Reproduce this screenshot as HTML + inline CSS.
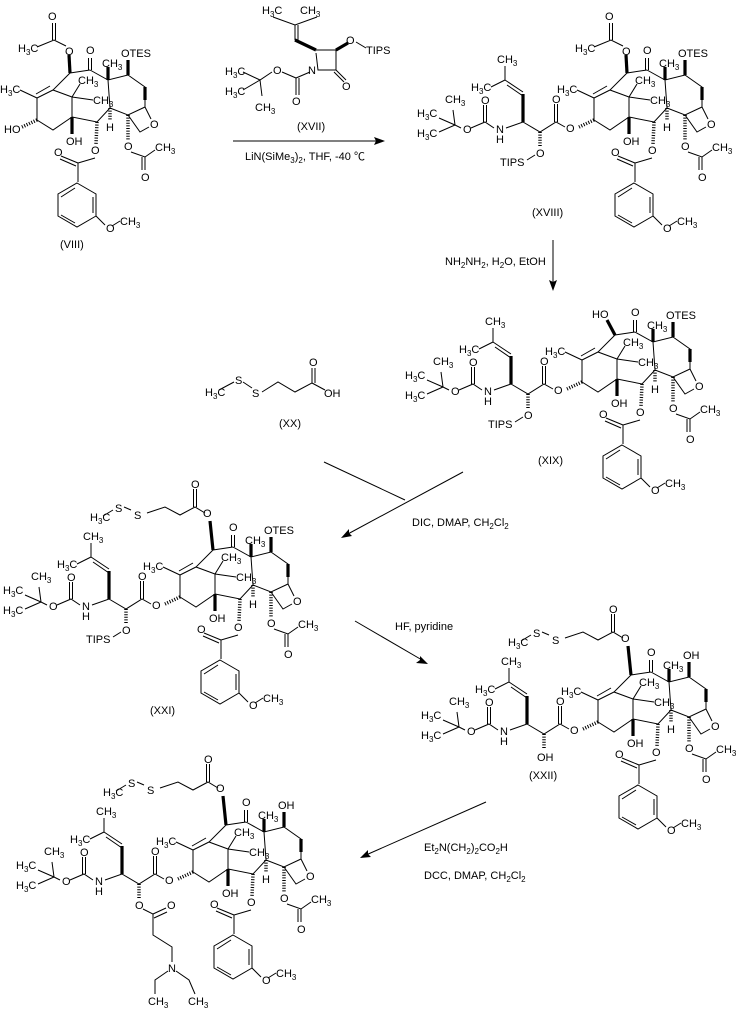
<!DOCTYPE html>
<html><head><meta charset="utf-8"><style>
html,body{margin:0;padding:0;background:#fff}
svg{display:block}
text{font-family:"Liberation Sans","Noto Sans CJK SC",sans-serif;font-size:11px;fill:#000}
.s{font-size:8px}
.l{stroke:#000;stroke-width:1;fill:none}
.b{stroke:#000;stroke-width:3.2;fill:none}
.h{stroke:#000;stroke-width:3.5;stroke-dasharray:1 1.6;fill:none}
</style></head><body>
<svg width="741" height="1012" viewBox="0 0 741 1012" xmlns="http://www.w3.org/2000/svg">
<defs>
<g id="core">
<path class="l" d="M70,73L90,70M88.5,70L88.5,58M91.5,70L91.5,58M90,70L108,80L128,75L145,87L145,107L128,115L110,108L108,80M145,107L151,119M149,127L140,132L128,115M110,108L97,122L72,117L72,97L53,90L70,73M53,90L37,98M50,86L36,94M37,98L37,120L53,130L72,117M72,97L80,84M72,97L93,100M37,98L20,90M95,158L78,163L78,182M78,163L61,156M76,166L60,159M77,183L96,194L96,216L77,227L58,216L58,194Z M93,197L93,213 M75,223L61,215 M61,197L75,188 M96,216L105,225M112,226L120,221M131,152L145,157L155,150M145,157L145,170M142,157L142,170"/>
<path class="b" d="M108,80L108,67M128,75L128,60M145,87L145,100M72,117L72,134"/>
<path class="h" d="M110,108L110,121M97,122L96,144M128,115L128,140M37,120L22,127"/>
</g>
<g id="oac">
<path class="l" d="M66,46L54,40L37,47M52.5,40L52.5,23M55.5,40L55.5,23"/>
<path class="b" d="M70,73L69,55"/>
</g>
<g id="ss">
<path class="b" d="M70,73L67,44"/>
<path class="l" d="M62,36L52,30L37,38L22,30L4,36M50.5,30L50.5,12M53.5,30L53.5,12M-12,33L-19,30M-30,33L-40,39"/>
</g>
<g id="sc">
<path class="l" d="M8,127L-1,122L-17,132L-34,122L-51,128M-2.5,122L-2.5,104M0.5,122L0.5,104M-34,92L-52,80M-34,96L-50,85M-52,80L-52,66M-52,80L-66,87M-63,128L-72,122L-86,128M-73.5,122L-73.5,105M-70.5,122L-70.5,105M-96,128L-102,125L-118,118M-102,125L-118,132M-102,125L-104,110"/>
<path class="b" d="M-34,122L-34,94"/>
<path class="h" d="M-17,132L-17,147"/>
</g>
</defs>

<!-- VIII -->
<use href="#core"/>
<use href="#oac"/>
<g>
<text x="48" y="20">O</text><text x="18" y="52">H<tspan class="s" dy="3">3</tspan><tspan dy="-3">C</tspan></text>
<text x="65" y="55">O</text><text x="86" y="54">O</text>
<text x="102" y="67">CH<tspan class="s" dy="3">3</tspan></text>
<text x="121" y="57">OTES</text>
<text x="78" y="84">CH<tspan class="s" dy="3">3</tspan></text>
<text x="93" y="104">CH<tspan class="s" dy="3">3</tspan></text>
<text x="0" y="93">H<tspan class="s" dy="3">3</tspan><tspan dy="-3">C</tspan></text>
<text x="4" y="133">HO</text>
<text x="106" y="131">H</text><text x="66" y="145">OH</text>
<text x="91" y="154">O</text><text x="54" y="156">O</text>
<text x="150" y="128">O</text>
<text x="106" y="232">O</text><text x="120" y="225">CH<tspan class="s" dy="3">3</tspan></text>
<text x="124" y="150">O</text><text x="155" y="151">CH<tspan class="s" dy="3">3</tspan></text><text x="141" y="181">O</text>
<text x="60" y="248">(VIII)</text>
</g>

<!-- XVII reagent -->
<path class="l" d="M273,17L295,25L317,17M295,25L295,40M298,25L298,40M295,40L312,48M316,50L336,50L336,70L318,70L316,53M336,70L346,80M334,72L344,82M310,72L296,78L296,95M299,78L299,95M296,78L282,72M272,72L260,80L243,72M260,80L243,90M260,80L262,96M356,42L366,48"/>
<path class="b" d="M295,40L316,50M336,50L348,43"/>
<text x="262" y="14">H<tspan class="s" dy="3">3</tspan><tspan dy="-3">C</tspan></text>
<text x="300" y="14">CH<tspan class="s" dy="3">3</tspan></text>
<text x="346" y="44">O</text><text x="366" y="54">TIPS</text>
<text x="308" y="74">N</text><text x="342" y="90">O</text>
<text x="273" y="74">O</text><text x="292" y="105">O</text>
<text x="225" y="75">H<tspan class="s" dy="3">3</tspan><tspan dy="-3">C</tspan></text>
<text x="225" y="95">H<tspan class="s" dy="3">3</tspan><tspan dy="-3">C</tspan></text>
<text x="255" y="111">CH<tspan class="s" dy="3">3</tspan></text>
<text x="297" y="130">(XVII)</text>
<path class="l" d="M233,141L380,141"/><path d="M385,141L374,137L376,141L374,145Z" fill="#000"/>
<text x="245" y="160">LiN(SiMe<tspan class="s" dy="3">3</tspan><tspan dy="-3">)</tspan><tspan class="s" dy="3">2</tspan><tspan dy="-3">, THF, -40 ℃</tspan></text>

<!-- XVIII -->
<g transform="translate(557,0)">
<use href="#core"/><use href="#oac"/><use href="#sc"/>
<path class="l" d="M-30,160L-22,155"/>
<text x="48" y="20">O</text><text x="18" y="52">H<tspan class="s" dy="3">3</tspan><tspan dy="-3">C</tspan></text>
<text x="65" y="55">O</text><text x="86" y="54">O</text>
<text x="102" y="67">CH<tspan class="s" dy="3">3</tspan></text><text x="121" y="57">OTES</text>
<text x="78" y="84">CH<tspan class="s" dy="3">3</tspan></text><text x="93" y="104">CH<tspan class="s" dy="3">3</tspan></text>
<text x="0" y="93">H<tspan class="s" dy="3">3</tspan><tspan dy="-3">C</tspan></text>
<text x="106" y="131">H</text><text x="66" y="145">OH</text><text x="91" y="154">O</text><text x="54" y="156">O</text>
<text x="150" y="128">O</text><text x="106" y="232">O</text><text x="120" y="225">CH<tspan class="s" dy="3">3</tspan></text>
<text x="124" y="150">O</text><text x="155" y="151">CH<tspan class="s" dy="3">3</tspan></text><text x="141" y="181">O</text>
<text x="9" y="132">O</text><text x="-5" y="103">O</text><text x="-21" y="157">O</text><text x="-57" y="166">TIPS</text>
<text x="-60" y="63">CH<tspan class="s" dy="3">3</tspan></text><text x="-86" y="91">H<tspan class="s" dy="3">3</tspan><tspan dy="-3">C</tspan></text>
<text x="-61" y="133">N</text><text x="-61" y="143">H</text><text x="-76" y="104">O</text><text x="-94" y="133">O</text>
<text x="-140" y="117">H<tspan class="s" dy="3">3</tspan><tspan dy="-3">C</tspan></text><text x="-140" y="137">H<tspan class="s" dy="3">3</tspan><tspan dy="-3">C</tspan></text>
<text x="-112" y="103">CH<tspan class="s" dy="3">3</tspan></text>
<text x="-25" y="216">(XVIII)</text>
</g>
<path class="l" d="M553,240L553,285"/><path d="M553,291L549,280L553,282L557,280Z" fill="#000"/>
<text x="445" y="265">NH<tspan class="s" dy="3">2</tspan><tspan dy="-3">NH</tspan><tspan class="s" dy="3">2</tspan><tspan dy="-3">, H</tspan><tspan class="s" dy="3">2</tspan><tspan dy="-3">O, EtOH</tspan></text>

<!-- XIX -->
<g transform="translate(545,262)">
<use href="#core"/><use href="#sc"/>
<path class="l" d="M-30,160L-22,155"/>
<path class="b" d="M70,73L62,58"/>
<text x="47" y="56">HO</text><text x="86" y="54">O</text>
<text x="102" y="67">CH<tspan class="s" dy="3">3</tspan></text><text x="121" y="57">OTES</text>
<text x="78" y="84">CH<tspan class="s" dy="3">3</tspan></text><text x="93" y="104">CH<tspan class="s" dy="3">3</tspan></text>
<text x="0" y="93">H<tspan class="s" dy="3">3</tspan><tspan dy="-3">C</tspan></text>
<text x="106" y="131">H</text><text x="66" y="145">OH</text><text x="91" y="154">O</text><text x="54" y="156">O</text>
<text x="150" y="128">O</text><text x="106" y="232">O</text><text x="120" y="225">CH<tspan class="s" dy="3">3</tspan></text>
<text x="124" y="150">O</text><text x="155" y="151">CH<tspan class="s" dy="3">3</tspan></text><text x="141" y="181">O</text>
<text x="9" y="132">O</text><text x="-5" y="103">O</text><text x="-21" y="157">O</text><text x="-57" y="166">TIPS</text>
<text x="-60" y="63">CH<tspan class="s" dy="3">3</tspan></text><text x="-86" y="91">H<tspan class="s" dy="3">3</tspan><tspan dy="-3">C</tspan></text>
<text x="-61" y="133">N</text><text x="-61" y="143">H</text><text x="-76" y="104">O</text><text x="-94" y="133">O</text>
<text x="-140" y="117">H<tspan class="s" dy="3">3</tspan><tspan dy="-3">C</tspan></text><text x="-140" y="137">H<tspan class="s" dy="3">3</tspan><tspan dy="-3">C</tspan></text>
<text x="-112" y="103">CH<tspan class="s" dy="3">3</tspan></text>
<text x="-7" y="202">(XIX)</text>
</g>

<!-- XX -->
<path class="l" d="M219,390L234,382M243,382L252,388M262,392L278,382L295,392L312,383L312,368M315,383L315,368M312,383L325,390"/>
<text x="205" y="396">H<tspan class="s" dy="3">3</tspan><tspan dy="-3">C</tspan></text>
<text x="235" y="384">S</text><text x="252" y="397">S</text>
<text x="309" y="366">O</text><text x="324" y="397">OH</text>
<text x="279" y="427">(XX)</text>
<path class="l" d="M324,462L405,500M463,472L346,535"/><path d="M341,538L352,536L349,533L349,529Z" fill="#000"/>
<text x="412" y="526">DIC, DMAP, CH<tspan class="s" dy="3">2</tspan><tspan dy="-3">Cl</tspan><tspan class="s" dy="3">2</tspan></text>

<!-- XXI -->
<g transform="translate(143,477)">
<use href="#core"/><use href="#ss"/><use href="#sc"/>
<path class="l" d="M-30,160L-22,155"/>
<text x="60" y="40">O</text><text x="48" y="11">O</text><text x="-9" y="42">S</text><text x="-28" y="35">S</text>
<text x="-53" y="44">H<tspan class="s" dy="3">3</tspan><tspan dy="-3">C</tspan></text>
<text x="86" y="54">O</text>
<text x="102" y="67">CH<tspan class="s" dy="3">3</tspan></text><text x="121" y="57">OTES</text>
<text x="78" y="84">CH<tspan class="s" dy="3">3</tspan></text><text x="93" y="104">CH<tspan class="s" dy="3">3</tspan></text>
<text x="0" y="93">H<tspan class="s" dy="3">3</tspan><tspan dy="-3">C</tspan></text>
<text x="106" y="131">H</text><text x="66" y="145">OH</text><text x="91" y="154">O</text><text x="54" y="156">O</text>
<text x="150" y="128">O</text><text x="106" y="232">O</text><text x="120" y="225">CH<tspan class="s" dy="3">3</tspan></text>
<text x="124" y="150">O</text><text x="155" y="151">CH<tspan class="s" dy="3">3</tspan></text><text x="141" y="181">O</text>
<text x="9" y="132">O</text><text x="-5" y="103">O</text><text x="-21" y="157">O</text><text x="-57" y="166">TIPS</text>
<text x="-60" y="63">CH<tspan class="s" dy="3">3</tspan></text><text x="-86" y="91">H<tspan class="s" dy="3">3</tspan><tspan dy="-3">C</tspan></text>
<text x="-61" y="133">N</text><text x="-61" y="143">H</text><text x="-76" y="104">O</text><text x="-94" y="133">O</text>
<text x="-140" y="117">H<tspan class="s" dy="3">3</tspan><tspan dy="-3">C</tspan></text><text x="-140" y="137">H<tspan class="s" dy="3">3</tspan><tspan dy="-3">C</tspan></text>
<text x="-112" y="103">CH<tspan class="s" dy="3">3</tspan></text>
<text x="7" y="237">(XXI)</text>
</g>
<path class="l" d="M355,621L422,660"/><path d="M428,664L420,656L420,660L416,663Z" fill="#000"/>
<text x="395" y="630">HF, pyridine</text>

<!-- XXII -->
<g transform="translate(561,602)">
<use href="#core"/><use href="#ss"/><use href="#sc"/>
<text x="60" y="40">O</text><text x="48" y="11">O</text><text x="-9" y="42">S</text><text x="-28" y="35">S</text>
<text x="-53" y="44">H<tspan class="s" dy="3">3</tspan><tspan dy="-3">C</tspan></text>
<text x="86" y="54">O</text>
<text x="102" y="67">CH<tspan class="s" dy="3">3</tspan></text><text x="122" y="57">OH</text>
<text x="78" y="84">CH<tspan class="s" dy="3">3</tspan></text><text x="93" y="104">CH<tspan class="s" dy="3">3</tspan></text>
<text x="0" y="93">H<tspan class="s" dy="3">3</tspan><tspan dy="-3">C</tspan></text>
<text x="106" y="131">H</text><text x="66" y="145">OH</text><text x="91" y="154">O</text><text x="54" y="156">O</text>
<text x="150" y="128">O</text><text x="106" y="232">O</text><text x="120" y="225">CH<tspan class="s" dy="3">3</tspan></text>
<text x="124" y="150">O</text><text x="155" y="151">CH<tspan class="s" dy="3">3</tspan></text><text x="141" y="181">O</text>
<text x="9" y="132">O</text><text x="-5" y="103">O</text><text x="-24" y="159">OH</text>
<text x="-60" y="63">CH<tspan class="s" dy="3">3</tspan></text><text x="-86" y="91">H<tspan class="s" dy="3">3</tspan><tspan dy="-3">C</tspan></text>
<text x="-61" y="133">N</text><text x="-61" y="143">H</text><text x="-76" y="104">O</text><text x="-94" y="133">O</text>
<text x="-140" y="117">H<tspan class="s" dy="3">3</tspan><tspan dy="-3">C</tspan></text><text x="-140" y="137">H<tspan class="s" dy="3">3</tspan><tspan dy="-3">C</tspan></text>
<text x="-112" y="103">CH<tspan class="s" dy="3">3</tspan></text>
<text x="-32" y="177">(XXII)</text>
</g>
<path class="l" d="M486,802L366,855"/><path d="M360,858L371,857L368,854L368,850Z" fill="#000"/>
<text x="424" y="851">Et<tspan class="s" dy="3">2</tspan><tspan dy="-3">N(CH</tspan><tspan class="s" dy="3">2</tspan><tspan dy="-3">)</tspan><tspan class="s" dy="3">2</tspan><tspan dy="-3">CO</tspan><tspan class="s" dy="3">2</tspan><tspan dy="-3">H</tspan></text>
<text x="424" y="879">DCC, DMAP, CH<tspan class="s" dy="3">2</tspan><tspan dy="-3">Cl</tspan><tspan class="s" dy="3">2</tspan></text>

<!-- Final -->
<g transform="translate(156,752)">
<use href="#core"/><use href="#ss"/><use href="#sc"/>
<path class="l" d="M-13,157L-3,162L-3,183L16,195L16,210M-3,162L10,156M-2,166L11,160M12,219L-1,228L-1,242M20,219L33,228L39,242"/>
<text x="60" y="40">O</text><text x="48" y="11">O</text><text x="-9" y="42">S</text><text x="-28" y="35">S</text>
<text x="-53" y="44">H<tspan class="s" dy="3">3</tspan><tspan dy="-3">C</tspan></text>
<text x="86" y="54">O</text>
<text x="102" y="67">CH<tspan class="s" dy="3">3</tspan></text><text x="122" y="57">OH</text>
<text x="78" y="84">CH<tspan class="s" dy="3">3</tspan></text><text x="93" y="104">CH<tspan class="s" dy="3">3</tspan></text>
<text x="0" y="93">H<tspan class="s" dy="3">3</tspan><tspan dy="-3">C</tspan></text>
<text x="106" y="131">H</text><text x="66" y="145">OH</text><text x="91" y="154">O</text><text x="54" y="156">O</text>
<text x="150" y="128">O</text><text x="106" y="232">O</text><text x="120" y="225">CH<tspan class="s" dy="3">3</tspan></text>
<text x="124" y="150">O</text><text x="155" y="151">CH<tspan class="s" dy="3">3</tspan></text><text x="141" y="181">O</text>
<text x="9" y="132">O</text><text x="-5" y="103">O</text><text x="-21" y="157">O</text><text x="11" y="157">O</text>
<text x="12" y="220">N</text><text x="-8" y="253">CH<tspan class="s" dy="3">3</tspan></text><text x="32" y="253">CH<tspan class="s" dy="3">3</tspan></text>
<text x="-60" y="63">CH<tspan class="s" dy="3">3</tspan></text><text x="-86" y="91">H<tspan class="s" dy="3">3</tspan><tspan dy="-3">C</tspan></text>
<text x="-61" y="133">N</text><text x="-61" y="143">H</text><text x="-76" y="104">O</text><text x="-94" y="133">O</text>
<text x="-140" y="117">H<tspan class="s" dy="3">3</tspan><tspan dy="-3">C</tspan></text><text x="-140" y="137">H<tspan class="s" dy="3">3</tspan><tspan dy="-3">C</tspan></text>
<text x="-112" y="103">CH<tspan class="s" dy="3">3</tspan></text>
</g>
</svg>
</body></html>
